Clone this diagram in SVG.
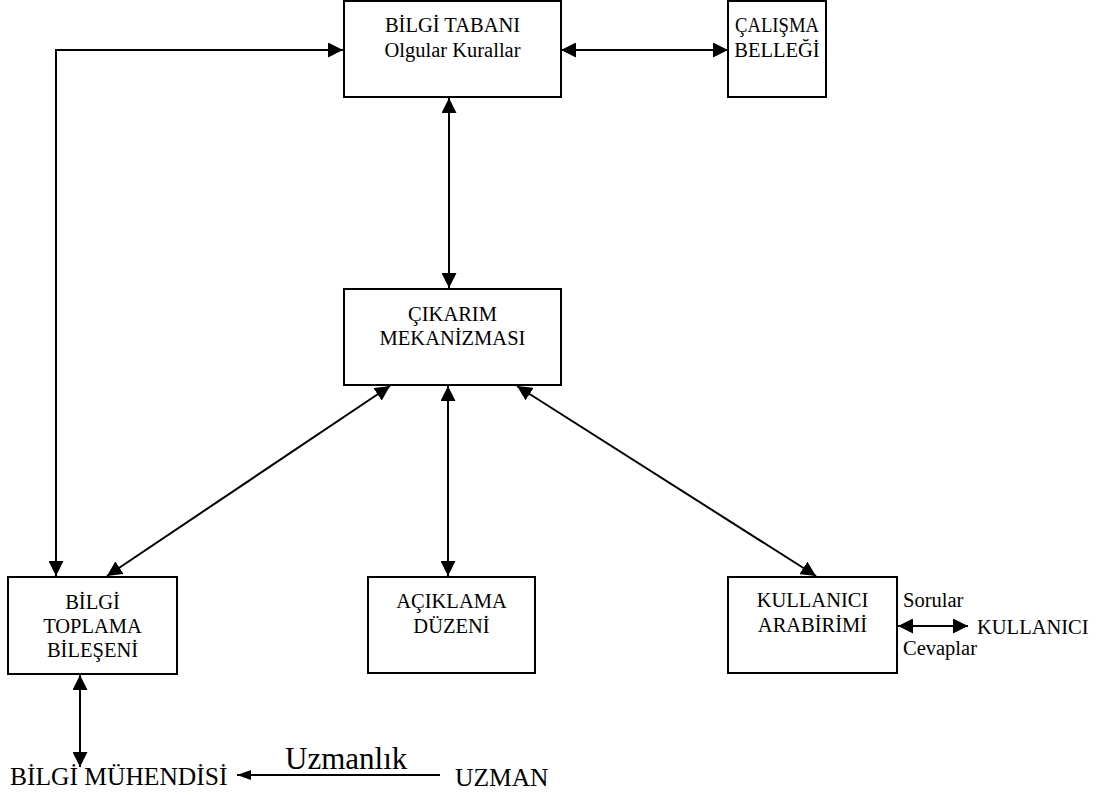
<svg xmlns="http://www.w3.org/2000/svg" width="1101" height="796" viewBox="0 0 1101 796" font-family="'Liberation Serif', serif">
<style>
.box{fill:#fff;stroke:#000;stroke-width:2}
text{font-family:'Liberation Serif',serif;fill:#000}
.t{font-size:20.5px;text-anchor:middle}
.l{font-size:20.5px}
.big{font-size:25.5px}
.c{fill:none;stroke:#000;stroke-width:2}
</style>
<defs>
<marker id="ah" viewBox="0 0 15 15" refX="15" refY="7.5" markerWidth="15" markerHeight="15" markerUnits="userSpaceOnUse" orient="auto-start-reverse">
<path d="M0,0 L15,7.5 L0,15 z" fill="#000"/>
</marker>
<marker id="ahs" viewBox="0 0 14 10" refX="14" refY="5" markerWidth="14" markerHeight="10" markerUnits="userSpaceOnUse" orient="auto-start-reverse">
<path d="M0,0 L14,5 L0,10 z" fill="#000"/>
</marker>
</defs>
<rect width="1101" height="796" fill="#fff"/>
<g id="connectors">
<line class="c" x1="561" y1="50" x2="728" y2="50" marker-start="url(#ah)" marker-end="url(#ah)"/>
<polyline class="c" points="343,50 56,50 56,576" marker-start="url(#ah)" marker-end="url(#ah)"/>
<line class="c" x1="449" y1="98" x2="449" y2="288" marker-start="url(#ah)" marker-end="url(#ah)"/>
<line class="c" x1="390" y1="386" x2="107" y2="576" marker-start="url(#ah)" marker-end="url(#ah)"/>
<line class="c" x1="448" y1="386" x2="448" y2="576" marker-start="url(#ah)" marker-end="url(#ah)"/>
<line class="c" x1="517" y1="386" x2="816" y2="576" marker-start="url(#ah)" marker-end="url(#ah)"/>
<line class="c" x1="898" y1="626" x2="968" y2="626" marker-start="url(#ah)" marker-end="url(#ah)"/>
<line class="c" x1="80" y1="675" x2="80" y2="767" marker-start="url(#ah)" marker-end="url(#ah)"/>
<line class="c" x1="440" y1="775" x2="237" y2="775" marker-end="url(#ahs)"/>
<text x="285" y="769" font-size="31">Uzmanlık</text>
<text class="l" x="903" y="607">Sorular</text>
<text class="l" x="903" y="655">Cevaplar</text>
</g>
<g id="bilgi-tabani">
<rect class="box" x="344" y="1" width="217" height="96"/>
<text class="t" x="452.5" y="32">BİLGİ TABANI</text>
<text class="t" x="452.5" y="57">Olgular Kurallar</text>
</g>
<g id="calisma-bellegi">
<rect class="box" x="728" y="1" width="98" height="96"/>
<text class="t" x="777" y="32" textLength="84" lengthAdjust="spacingAndGlyphs">ÇALIŞMA</text>
<text class="t" x="777" y="57">BELLEĞİ</text>
</g>
<g id="cikarim">
<rect class="box" x="344" y="289" width="217" height="96"/>
<text class="t" x="452.5" y="321">ÇIKARIM</text>
<text class="t" x="452.5" y="345">MEKANİZMASI</text>
</g>
<g id="bilgi-toplama">
<rect class="box" x="8" y="577" width="169" height="97"/>
<text class="t" x="92.5" y="609">BİLGİ</text>
<text class="t" x="92.5" y="633">TOPLAMA</text>
<text class="t" x="92.5" y="657">BİLEŞENİ</text>
</g>
<g id="aciklama">
<rect class="box" x="368" y="577" width="167" height="96"/>
<text class="t" x="451.5" y="608">AÇIKLAMA</text>
<text class="t" x="451.5" y="633">DÜZENİ</text>
</g>
<g id="kullanici-arabirimi">
<rect class="box" x="728" y="577" width="169" height="96"/>
<text class="t" x="812.5" y="607">KULLANICI</text>
<text class="t" x="812.5" y="632">ARABİRİMİ</text>
</g>
<g id="kullanici">
<text class="l" x="977" y="634">KULLANICI</text>
</g>
<g id="bilgi-muhendisi">
<text class="big" x="10" y="785">BİLGİ MÜHENDİSİ</text>
</g>
<g id="uzman">
<text class="big" x="455" y="786">UZMAN</text>
</g>
</svg>
